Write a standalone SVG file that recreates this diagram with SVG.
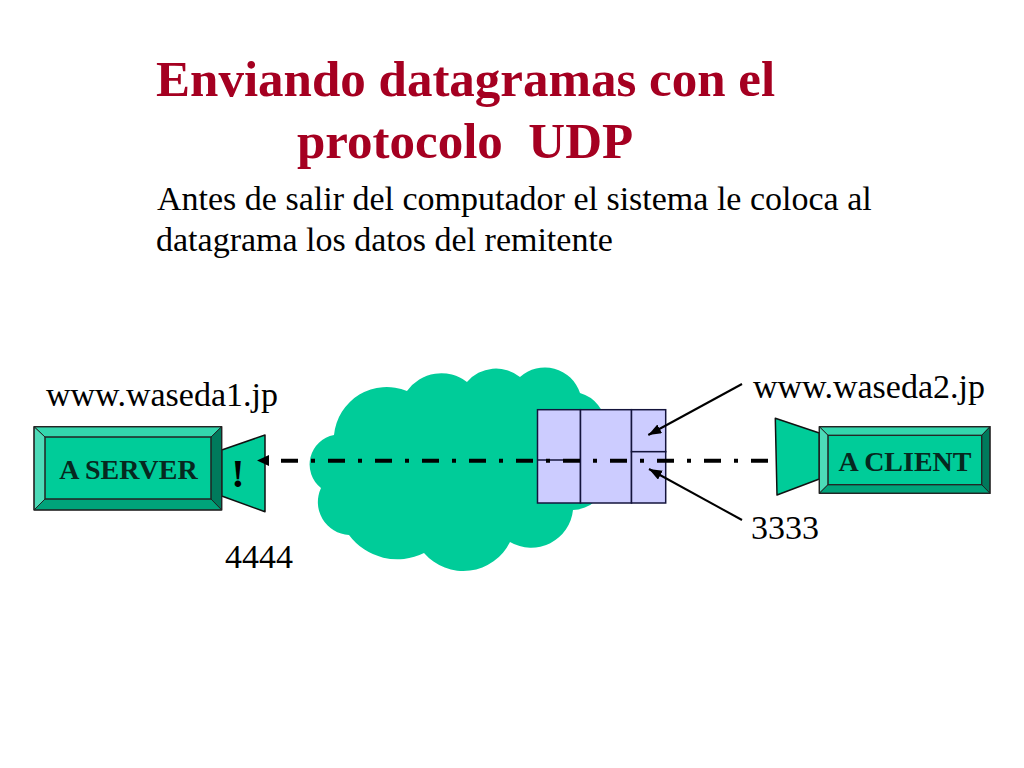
<svg xmlns="http://www.w3.org/2000/svg" width="1024" height="768" viewBox="0 0 1024 768">
<style>
text{font-family:"Liberation Serif","Times New Roman",serif;fill:#000;white-space:pre}
.title{font-size:51px;font-weight:bold;fill:#A50021}
.body{font-size:34px}
.lab{font-size:28px;font-weight:bold;fill:#06281f}
.cam{fill:#00CC99;stroke:#111;stroke-width:1.5;stroke-linejoin:round}
.edge{stroke:#222;stroke-width:1}
.cell{fill:#CCCCFF;stroke:#14143c;stroke-width:1.5}
.ptr{stroke:#000;stroke-width:2;fill:none;marker-end:url(#tip)}
.dash{stroke:#000;stroke-width:4;fill:none;stroke-dasharray:17 13 4 13}
</style>
<defs>
<marker id="tip" markerUnits="userSpaceOnUse" markerWidth="14" markerHeight="12" refX="13" refY="5" orient="auto"><path d="M0 0L13 5L0 10Z" fill="#000"/></marker>
</defs>
<rect width="1024" height="768" fill="#fff"/>
<g id="title">
<text class="title" x="156" y="96">Enviando datagramas con el</text>
<text class="title" x="297" y="158">protocolo  UDP</text>
</g>
<g id="description">
<text class="body" x="157" y="210">Antes de salir del computador el sistema le coloca al</text>
<text class="body" x="156" y="251">datagrama los datos del remitente</text>
</g>
<g id="cloud">
<path fill="#00CC99" d="M334 435A53 53 0 0 1 407 391A42 42 0 0 1 467 382A38 38 0 0 1 520 377A37 37 0 0 1 580 393A36 36 0 0 1 606 425L606 480A34 34 0 0 1 573 510A42 42 0 0 1 510 542A52 52 0 0 1 424 553A60 60 0 0 1 349 535A33 33 0 0 1 321 488A30 30 0 0 1 334 435Z"/>
</g>
<g id="packet">
<rect class="cell" x="537.5" y="409.7" width="43" height="93.3"/>
<rect class="cell" x="580.5" y="409.7" width="51" height="93.3"/>
<rect class="cell" x="631.5" y="409.7" width="34.2" height="42"/>
<rect class="cell" x="631.5" y="451.7" width="34.2" height="51.3"/>
</g>
<g id="server">
<path class="cam" d="M221.7 450L265 435V511.7L221.7 496Z"/>
<path fill="#00CC99" d="M45 437H211V499H45Z"/>
<path fill="#33D6AD" class="edge" d="M34 426.7H221.7L211 437H45Z"/>
<path fill="#4DDBB8" class="edge" d="M34 426.7L45 437V499L34 510Z"/>
<path fill="#007A5C" class="edge" d="M221.7 426.7L211 437V499L221.7 510Z"/>
<path fill="#00A37A" class="edge" d="M34 510L45 499H211L221.7 510Z"/>
<rect x="34" y="426.7" width="187.7" height="83.3" fill="none" stroke="#222" stroke-width="1.2"/>
<rect x="45" y="437" width="166" height="62" fill="none" stroke="#222" stroke-width="1"/>
<text class="lab" x="128.5" y="479" text-anchor="middle">A SERVER</text>
<text x="238" y="487" text-anchor="middle" font-size="40" font-weight="bold">!</text>
</g>
<g id="client">
<path class="cam" d="M775.3 418.3L819.3 433V479L777 495Z"/>
<path fill="#00CC99" d="M828 435.3H981.7V484.7H828Z"/>
<path fill="#33D6AD" class="edge" d="M819.3 426.7H990L981.7 435.3H828Z"/>
<path fill="#4DDBB8" class="edge" d="M819.3 426.7L828 435.3V484.7L819.3 493.3Z"/>
<path fill="#007A5C" class="edge" d="M990 426.7L981.7 435.3V484.7L990 493.3Z"/>
<path fill="#00A37A" class="edge" d="M819.3 493.3L828 484.7H981.7L990 493.3Z"/>
<rect x="819.3" y="426.7" width="170.7" height="66.6" fill="none" stroke="#222" stroke-width="1.2"/>
<rect x="828" y="435.3" width="153.7" height="49.4" fill="none" stroke="#222" stroke-width="1"/>
<text class="lab" x="905" y="470.7" text-anchor="middle">A CLIENT</text>
</g>
<g id="connectors">
<path d="M537.5 460H563" stroke="#14143c" stroke-width="1.5"/>
<path class="dash" d="M768 460.7H266"/>
<path d="M257 460.5L269 455V466Z" fill="#000"/>
<path class="ptr" d="M742 384L648.3 435"/>
<path class="ptr" d="M742 520L649 469"/>
</g>
<g id="labels">
<text class="body" x="46" y="406">www.waseda1.jp</text>
<text class="body" x="753" y="398">www.waseda2.jp</text>
<text class="body" x="751" y="539">3333</text>
<text class="body" x="225" y="568">4444</text>
</g>
</svg>
